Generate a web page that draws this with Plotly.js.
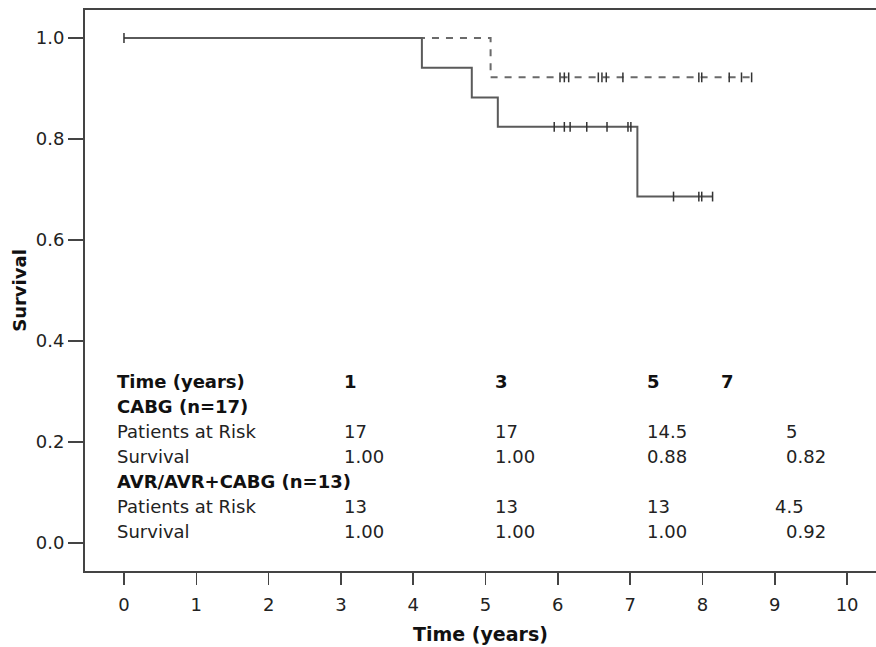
<!DOCTYPE html>
<html>
<head>
<meta charset="utf-8">
<script src="https://cdn.plot.ly/plotly-3.0.1.min.js"></script>
<style>html,body{margin:0;padding:0;background:#fff;}#chart{width:876px;height:647px;}</style>
</head>
<body>
<div id="chart"></div>
<script>
// ---- Data ----
// CABG (solid) step curve: event times and survival after each event
const cabgTimes = [0, 4.12, 4.81, 5.17, 7.10, 8.14];
const cabgSurvival = [1.0, 0.941, 0.882, 0.824, 0.686, 0.686];
const cabgCensored = [0, 5.95, 6.09, 6.17, 6.40, 6.68, 6.97, 7.01, 7.60, 7.95, 7.99, 8.14];

// AVR/AVR+CABG (dashed) step curve
const avrTimes = [0, 5.07, 8.70];
const avrSurvival = [1.0, 0.922, 0.922];
const avrCensored = [6.03, 6.09, 6.15, 6.56, 6.61, 6.67, 6.90, 7.95, 7.99, 8.37, 8.54, 8.68];

// Table
const tableTimes = ['1', '3', '5', '7'];
const cabgAtRisk = ['17', '17', '14.5', '5'];
const cabgTableSurv = ['1.00', '1.00', '0.88', '0.82'];
const avrAtRisk = ['13', '13', '13', '4.5'];
const avrTableSurv = ['1.00', '1.00', '1.00', '0.92'];
const rowLabels = ['Time (years)', 'CABG (n=17)', 'Patients at Risk', 'Survival', 'AVR/AVR+CABG (n=13)', 'Patients at Risk', 'Survival'];
const boldRows = [true, true, false, false, true, false, false];

const xTicks = [0, 1, 2, 3, 4, 5, 6, 7, 8, 9, 10];
const yTicks = [0, 0.2, 0.4, 0.6, 0.8, 1.0];
const yTickText = ['0.0', '0.2', '0.4', '0.6', '0.8', '1.0'];

// ---- Layout constants (positions only) ----
const rowY = [0.3194, 0.2699, 0.2204, 0.1709, 0.1214, 0.0719, 0.0224];
const labelX = -0.124;
const colHeaderX = [3.01, 5.10, 7.21, 8.23];
const colCabgX = [3.01, 5.10, 7.21, 9.13];
const colAvrRiskX = [3.01, 5.10, 7.21, 8.98];
const colAvrSurvX = [3.01, 5.10, 7.21, 9.13];

function stepValue(times, surv, t) {
  let v = surv[0];
  for (let i = 0; i < times.length; i++) { if (times[i] <= t) v = surv[i]; }
  return v;
}

const FONT = 'DejaVu Sans, Verdana, Arial, sans-serif';
const censorMarker = {symbol: 'line-ns-open', size: 7, color: '#333', line: {width: 1.5, color: '#333'}};

const traces = [
  {
    x: avrTimes, y: avrSurvival, type: 'scatter', mode: 'lines',
    line: {shape: 'hv', color: '#6a6a6a', width: 2, dash: '7px,7px'},
    hoverinfo: 'skip', showlegend: false
  },
  {
    x: avrCensored, y: avrCensored.map(t => stepValue(avrTimes, avrSurvival, t)),
    type: 'scatter', mode: 'markers', marker: censorMarker,
    hoverinfo: 'skip', showlegend: false
  },
  {
    x: cabgTimes, y: cabgSurvival, type: 'scatter', mode: 'lines',
    line: {shape: 'hv', color: '#5a5a5a', width: 2},
    hoverinfo: 'skip', showlegend: false
  },
  {
    x: cabgCensored, y: cabgCensored.map(t => stepValue(cabgTimes, cabgSurvival, t)),
    type: 'scatter', mode: 'markers', marker: censorMarker,
    hoverinfo: 'skip', showlegend: false
  }
];

const annotations = [];
function addText(x, y, text, bold) {
  annotations.push({
    x: x, y: y, xref: 'x', yref: 'y', xanchor: 'left', yanchor: 'middle',
    text: bold ? '<b>' + text + '</b>' : text, showarrow: false,
    font: {family: FONT, size: 18, color: bold ? '#111' : '#222'}
  });
}
rowLabels.forEach((t, i) => addText(labelX, rowY[i], t, boldRows[i]));
tableTimes.forEach((t, i) => addText(colHeaderX[i], rowY[0], t, true));
cabgAtRisk.forEach((t, i) => addText(colCabgX[i], rowY[2], t, false));
cabgTableSurv.forEach((t, i) => addText(colCabgX[i], rowY[3], t, false));
avrAtRisk.forEach((t, i) => addText(colAvrRiskX[i], rowY[5], t, false));
avrTableSurv.forEach((t, i) => addText(colAvrSurvX[i], rowY[6], t, false));

const layout = {
  width: 876, height: 647,
  margin: {l: 85, r: 0, t: 10, b: 76},
  paper_bgcolor: '#fff', plot_bgcolor: '#fff',
  showlegend: false,
  xaxis: {
    range: [-0.539, 10.4], tickvals: xTicks,
    ticks: 'outside', ticklen: 12, tickwidth: 1.5, tickcolor: '#444',
    showline: true, linecolor: '#444', linewidth: 2, mirror: true,
    showgrid: false, zeroline: false, ticklabelstandoff: 4,
    tickfont: {family: FONT, size: 18, color: '#222'},
    title: {text: '<b>Time (years)</b>', font: {family: FONT, size: 19, color: '#111'}, standoff: 14}
  },
  yaxis: {
    range: [-0.0554, 1.0554], tickvals: yTicks, ticktext: yTickText,
    ticks: 'outside', ticklen: 15, tickwidth: 1.5, tickcolor: '#444',
    showline: true, linecolor: '#444', linewidth: 2, mirror: false,
    showgrid: false, zeroline: false,
    tickfont: {family: FONT, size: 18, color: '#222'},
    title: {text: '<b>Survival</b>', font: {family: FONT, size: 18, color: '#111'}, standoff: 4}
  },
  annotations: annotations
};

Plotly.newPlot('chart', traces, layout, {displayModeBar: false, staticPlot: true});
</script>
</body>
</html>
